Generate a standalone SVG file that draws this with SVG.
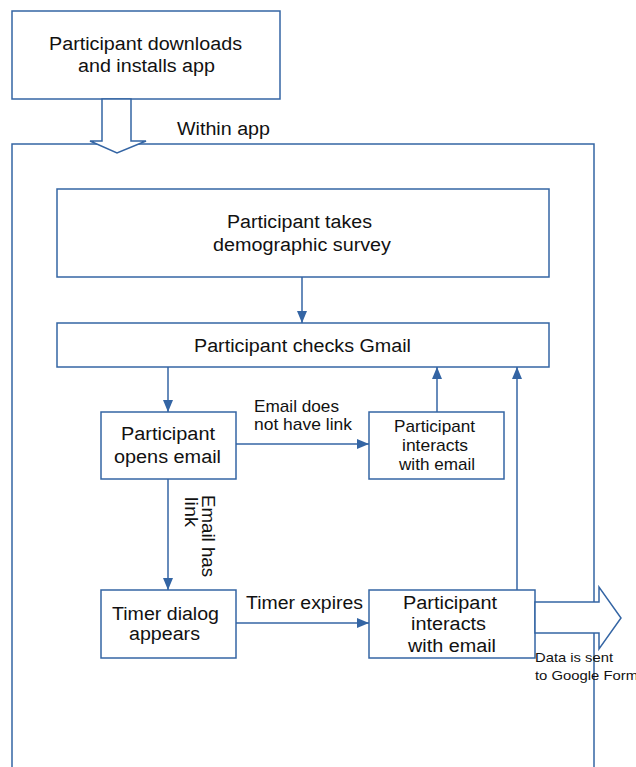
<svg xmlns="http://www.w3.org/2000/svg" width="636" height="767" viewBox="0 0 636 767">
<defs>
<style>
.box{fill:#fff;stroke:#3465a4;stroke-width:1.5}
.ln{fill:none;stroke:#3465a4;stroke-width:1.5}
.blk{fill:#fff;stroke:#3465a4;stroke-width:1.5;stroke-linejoin:miter}
text{font-family:"Liberation Sans",Arial,sans-serif;fill:#111}
.t18{font-size:18px}
.t17{font-size:17px}
.t13{font-size:13px}
</style>
<marker id="ah" viewBox="0 0 12 10" refX="12" refY="5" markerWidth="12" markerHeight="10" markerUnits="userSpaceOnUse" orient="auto">
<path d="M0,0 L12,5 L0,10 Z" fill="#3465a4"/>
</marker>
</defs>
<rect width="636" height="767" fill="#fff"/>

<g id="container">
<path class="ln" d="M12,767 L12,144 L594,144 L594,767"/>
<text x="177" y="135" class="t18" textLength="93" lengthAdjust="spacingAndGlyphs">Within app</text>
</g>

<g id="n-download">
<rect class="box" x="12" y="11" width="268" height="88"/>
<text class="t18" x="49" y="50" textLength="193" lengthAdjust="spacingAndGlyphs">Participant downloads</text>
<text class="t18" x="78" y="72" textLength="137" lengthAdjust="spacingAndGlyphs">and installs app</text>
</g>

<g id="n-survey">
<rect class="box" x="57" y="189" width="492" height="88"/>
<text class="t18" x="227" y="228" textLength="145" lengthAdjust="spacingAndGlyphs">Participant takes</text>
<text class="t18" x="213" y="251" textLength="178" lengthAdjust="spacingAndGlyphs">demographic survey</text>
</g>

<g id="n-gmail">
<rect class="box" x="57" y="323" width="492" height="44"/>
<text class="t18" x="194" y="352" textLength="217" lengthAdjust="spacingAndGlyphs">Participant checks Gmail</text>
</g>

<g id="n-opens">
<rect class="box" x="101" y="412" width="135" height="67"/>
<text class="t18" x="121" y="440" textLength="94" lengthAdjust="spacingAndGlyphs">Participant</text>
<text class="t18" x="114" y="463" textLength="107" lengthAdjust="spacingAndGlyphs">opens email</text>
</g>

<g id="n-interacts1">
<rect class="box" x="369" y="412" width="135" height="67"/>
<text class="t17" x="394" y="432" textLength="81" lengthAdjust="spacingAndGlyphs">Participant</text>
<text class="t17" x="402" y="451" textLength="66" lengthAdjust="spacingAndGlyphs">interacts</text>
<text class="t17" x="399" y="470" textLength="76" lengthAdjust="spacingAndGlyphs">with email</text>
</g>

<g id="n-timer">
<rect class="box" x="101" y="590" width="135" height="68"/>
<text class="t18" x="112" y="620" textLength="107" lengthAdjust="spacingAndGlyphs">Timer dialog</text>
<text class="t18" x="129" y="640" textLength="71" lengthAdjust="spacingAndGlyphs">appears</text>
</g>

<g id="n-interacts2">
<rect class="box" x="369" y="590" width="166" height="68"/>
<text class="t18" x="403" y="609" textLength="94" lengthAdjust="spacingAndGlyphs">Participant</text>
<text class="t18" x="411" y="630" textLength="75" lengthAdjust="spacingAndGlyphs">interacts</text>
<text class="t18" x="408" y="652" textLength="88" lengthAdjust="spacingAndGlyphs">with email</text>
</g>

<g id="connectors">
<polygon class="blk" points="102,99 131,99 131,141 146,141 117,153 90,141 102,141"/>
<line class="ln" x1="302" y1="277" x2="302" y2="323" marker-end="url(#ah)"/>
<line class="ln" x1="168" y1="367" x2="168" y2="412" marker-end="url(#ah)"/>
<line class="ln" x1="236" y1="444" x2="369" y2="444" marker-end="url(#ah)"/>
<line class="ln" x1="437" y1="412" x2="437" y2="367" marker-end="url(#ah)"/>
<line class="ln" x1="168" y1="479" x2="168" y2="590" marker-end="url(#ah)"/>
<line class="ln" x1="236" y1="623" x2="369" y2="623" marker-end="url(#ah)"/>
<line class="ln" x1="517" y1="590" x2="517" y2="367" marker-end="url(#ah)"/>
<polygon class="blk" points="535,602 599,602 599,587 621,618 599,649 599,633 535,633"/>
<text x="254" y="412" class="t17" textLength="85" lengthAdjust="spacingAndGlyphs">Email does</text>
<text x="254" y="430" class="t17" textLength="98" lengthAdjust="spacingAndGlyphs">not have link</text>
<text x="246" y="609" class="t18" textLength="117" lengthAdjust="spacingAndGlyphs">Timer expires</text>
<text class="t18" transform="translate(202,495) rotate(90)" textLength="82" lengthAdjust="spacingAndGlyphs">Email has</text>
<text class="t18" transform="translate(185,497) rotate(90)" textLength="30" lengthAdjust="spacingAndGlyphs">link</text>
<text x="535" y="662" class="t13" textLength="78" lengthAdjust="spacingAndGlyphs">Data is sent</text>
<text x="535" y="680" class="t13" textLength="103" lengthAdjust="spacingAndGlyphs">to Google Form</text>
</g>
</svg>
